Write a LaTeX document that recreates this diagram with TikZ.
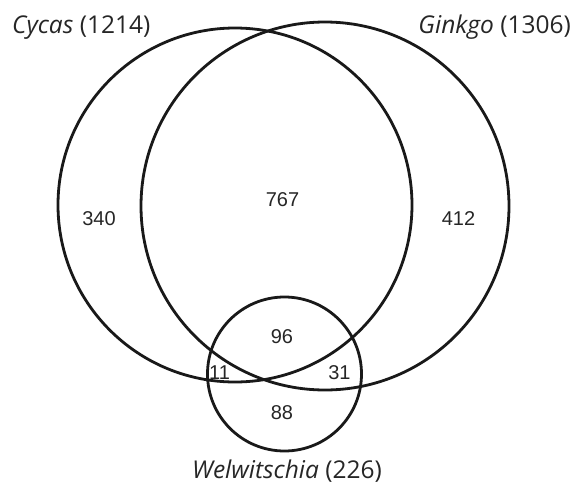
\documentclass[tikz,border=0pt]{standalone}
\usepackage{fontspec}
\setmainfont{Liberation Sans}
\newfontfamily\labelfont{Open Sans}
\begin{document}
\begin{tikzpicture}[x=1pt,y=-1pt,
  setcircle/.style={draw=black!90, line width=2.8pt, circle, inner sep=0pt, outer sep=0pt},
  num/.style={font=\fontsize{20}{24}\selectfont, text=black!85, inner sep=0pt},
  setlabel/.style={font=\labelfont\fontsize{24.5}{28}\selectfont, text=black!85, inner sep=0pt}]
\useasboundingbox (0,0) rectangle (579,493);
\node[setcircle, minimum size=354pt] (cycas) at (235,205) {};
\node[setcircle, minimum size=368pt] (ginkgo) at (325,206) {};
\node[setcircle, minimum size=154pt] (welw) at (284.5,374) {};
\node[setlabel, anchor=base west] (lcycas) at (12,33) {\textit{Cycas} (1214)};
\node[setlabel, anchor=base east] (lginkgo) at (571,33) {\textit{Ginkgo} (1306)};
\node[setlabel, anchor=base] (lwelw) at (287,478) {\textit{Welwitschia} (226)};
\node[num] (n340) at (99,219) {340};
\node[num] (n412) at (458.5,218.5) {412};
\node[num] (n767) at (282.5,199.5) {767};
\node[num] (n96) at (282,336.5) {96};
\node[num] (n11) at (219.5,373) {11};
\node[num] (n31) at (339.5,373) {31};
\node[num] (n88) at (282,413) {88};
\end{tikzpicture}
\end{document}
